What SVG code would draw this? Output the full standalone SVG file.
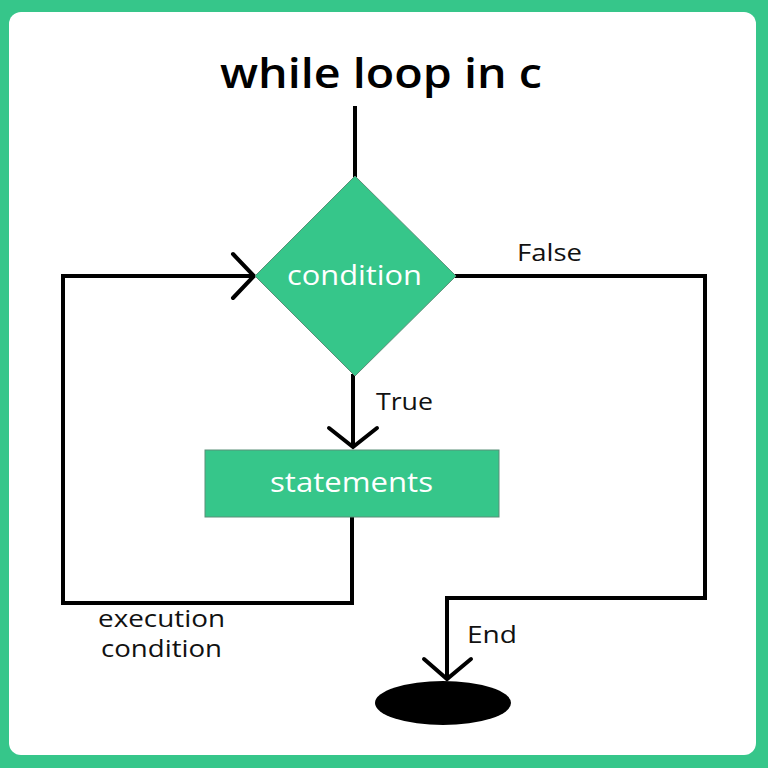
<svg xmlns="http://www.w3.org/2000/svg" width="768" height="768" viewBox="0 0 768 768">
<style>
.ln{fill:none;stroke:#000;stroke-width:4;stroke-linecap:square;stroke-linejoin:miter}
.ah{fill:none;stroke:#000;stroke-width:4;stroke-linecap:round;stroke-linejoin:miter}
.nd{fill:#36C68A;stroke:#5a8f78;stroke-width:1}
.wt{fill:#fff;font-family:"Open Sans","Noto Sans",sans-serif;font-weight:500}
.lb{fill:#111;font-family:"Open Sans","Noto Sans",sans-serif;font-size:23px}
</style>
<rect x="0" y="0" width="768" height="768" fill="#36C68A"/>
<rect x="9" y="12" width="747" height="743" rx="12" fill="#fff"/>
<text x="220" y="88" font-family="'Open Sans',sans-serif" font-weight="600" font-size="42" fill="#000" textLength="322" lengthAdjust="spacingAndGlyphs">while loop in c</text>
<g id="connectors">
<line class="ln" x1="355" y1="108" x2="355" y2="176"/>
<path class="ln" d="M353 376 V446"/>
<path class="ah" d="M329 428 L353 447 L377 428"/>
<path class="ln" d="M352 517 V603 H63 V276 H252"/>
<path class="ah" d="M233 254 L254 276 L233 298"/>
<path class="ln" d="M456 276 H705 V598 H447 V678"/>
<path class="ah" d="M424 659 L447 679 L471 659"/>
<text class="lb" x="376" y="410" textLength="57" lengthAdjust="spacingAndGlyphs">True</text>
<text class="lb" x="517" y="261" textLength="65" lengthAdjust="spacingAndGlyphs">False</text>
<text class="lb" x="467" y="643" textLength="50" lengthAdjust="spacingAndGlyphs">End</text>
<text class="lb" x="98" y="627" textLength="127" lengthAdjust="spacingAndGlyphs">execution</text>
<text class="lb" x="101" y="657" textLength="121" lengthAdjust="spacingAndGlyphs">condition</text>
</g>
<g id="condition">
<polygon class="nd" points="355,176 456,276 355,376 255,276"/>
<text class="wt" x="287" y="285" font-size="27" textLength="135" lengthAdjust="spacingAndGlyphs">condition</text>
</g>
<g id="statements">
<rect class="nd" x="205" y="450" width="294" height="67"/>
<text class="wt" x="270" y="492" font-size="27" textLength="163" lengthAdjust="spacingAndGlyphs">statements</text>
</g>
<g id="end">
<ellipse cx="443" cy="703" rx="68" ry="22" fill="#000"/>
</g>
</svg>
